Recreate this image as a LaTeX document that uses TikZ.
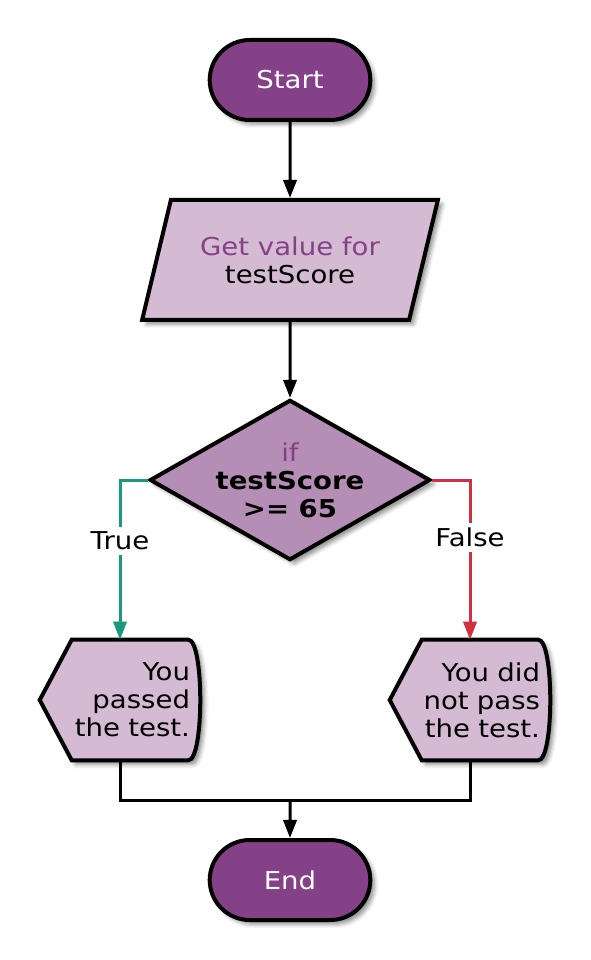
\documentclass[tikz,border=0pt]{standalone}
\usepackage{fontspec}
\setmainfont[FakeStretch=1.12]{DejaVu Sans}
\usetikzlibrary{positioning,calc,backgrounds,shadows.blur,arrows.meta,shapes.geometric,shapes.misc}

\definecolor{termfill}{HTML}{844187}
\definecolor{iofill}{HTML}{D4BAD3}
\definecolor{ifffill}{HTML}{B48EB5}
\definecolor{truegreen}{HTML}{1A9A7C}
\definecolor{falsered}{HTML}{D0303F}

\begin{document}
\begin{tikzpicture}[node distance=4.5cm, font=\fontsize{17.5}{20}\selectfont,
    shade/.style={blur shadow={shadow xshift=3pt, shadow yshift=-3pt, shadow blur radius=3pt, shadow opacity=45}},
    terminal/.style={draw, rounded rectangle, line width=0.1cm, fill=termfill, text=white, minimum width=4.25cm, minimum height=2cm, shade},
    iobox/.style={draw, trapezium, trapezium left angle=68, trapezium right angle=112, trapezium stretches=true, line width=0.1cm, fill=iofill, minimum width=7.4cm, minimum height=3cm, align=center, shade},
    ifbox/.style={draw, diamond, aspect=1.75, inner sep=0pt, line width=0.1cm, fill=ifffill, minimum width=7cm, minimum height=4cm, align=center, shade},
    showbox/.style={text width=3.5cm, align=right, inner xsep=0.25cm, minimum height=3cm},
    showline/.style={draw, line width=0.1cm, fill=iofill, shade},
    flow/.style={line width=0.075cm, -{Triangle[length=0.45cm, width=0.33cm]}},
    plain/.style={line width=0.075cm}]
    \useasboundingbox (0,0) rectangle (14.75,-24);

    \node (start) [terminal] at (7.25,-2) {Start};
    \node (input) [iobox, below of=start] {\textcolor{termfill}{Get value for}\\testScore};
    \node (check) [ifbox, below of=input, node distance=5.5cm] {\textcolor{termfill}{if}\\\textbf{testScore}\\\textbf{>= 65}};
    \node (pass) [showbox, below of=check, node distance=5.5cm, xshift=-4.25cm] {You\\passed\\the test.};
    \node (fail) [showbox, below of=check, node distance=5.5cm, xshift=4.5cm] {You did\\not pass\\the test.};
    \node (end) [terminal, below of=check, node distance=10cm] {End};

    % display shapes behind the texts
    \begin{scope}[on background layer]
        \foreach \n in {pass,fail}
            \path[showline] ([xshift=0.8cm]\n.north west) -- (\n.west) -- ([xshift=0.8cm]\n.south west)
                -- ([xshift=-0.3cm]\n.south east) .. controls ([xshift=0.1cm]\n.south east) and ([xshift=0.1cm]\n.north east) .. ([xshift=-0.3cm]\n.north east) -- cycle;
    \end{scope}

    \coordinate (merge) at ([yshift=-1cm]pass.south -| end.north);

    \draw[flow] (start) -- (input);
    \draw[flow] (input) -- (check);
    \draw[flow, truegreen] (check.west) -| node[pos=0.69, fill=white, text=black] {True} (pass.north);
    \draw[flow, falsered] (check.east) -| node[pos=0.68, fill=white, text=black] {False} (fail.north);
    \draw[plain] (pass.south) |- (merge) -| (fail.south);
    \draw[flow] (merge) -- (end);
\end{tikzpicture}
\end{document}
